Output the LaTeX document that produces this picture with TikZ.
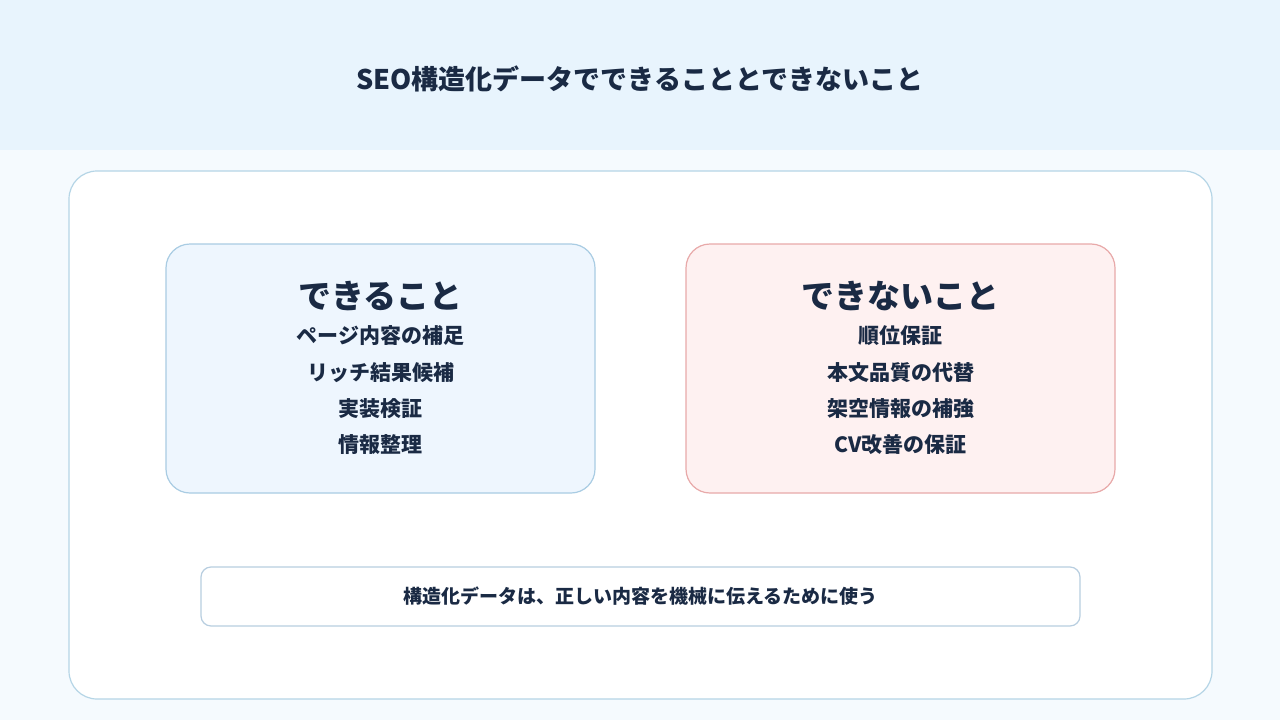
\documentclass[tikz,border=0pt]{standalone}
\usepackage{fontspec}
\setmainfont{Noto Sans CJK JP}
\definecolor{ink}{HTML}{1A2A44}
\definecolor{hdr}{HTML}{E8F4FD}
\definecolor{bg}{HTML}{F5FAFE}
\definecolor{obd}{HTML}{B5D5E6}
\definecolor{lfill}{HTML}{EEF6FE}
\definecolor{lbd}{HTML}{A9CCE3}
\definecolor{rfill}{HTML}{FEF1F1}
\definecolor{rbd}{HTML}{E8A9A9}
\definecolor{bbd}{HTML}{B8CEE0}
\begin{document}
\begin{tikzpicture}[x=1pt,y=-1pt,
  txt/.style={text=ink,font=\bfseries,inner sep=0pt},
  item/.style={txt,font=\bfseries\fontsize{21}{24}\selectfont},
  head/.style={txt,font=\bfseries\fontsize{33}{38}\selectfont}]
\useasboundingbox (0,0) rectangle (1280,720);
\fill[bg] (0,0) rectangle (1280,720);
\fill[hdr] (0,0) rectangle (1280,150);
\node[txt,font=\bfseries\fontsize{27}{32}\selectfont] (title) at (640,79) {SEO構造化データでできることとできないこと};
\draw[obd,fill=white,line width=1.2pt,rounded corners=28pt] (69,171) rectangle (1212,699);
\draw[lbd,fill=lfill,line width=1.2pt,rounded corners=24pt] (166,244) rectangle (595,493);
\draw[rbd,fill=rfill,line width=1.2pt,rounded corners=24pt] (686,244) rectangle (1115,493);
\draw[bbd,fill=white,line width=1.2pt,rounded corners=10pt] (201,567) rectangle (1080,626);
\node[head] (lh) at (380.5,296) {できること};
\node[item] (l1) at (380.5,336) {ページ内容の補足};
\node[item] (l2) at (380.5,373) {リッチ結果候補};
\node[item] (l3) at (380.5,409) {実装検証};
\node[item] (l4) at (380.5,445) {情報整理};
\node[head] (rh) at (900.5,296) {できないこと};
\node[item] (r1) at (900.5,336) {順位保証};
\node[item] (r2) at (900.5,373) {本文品質の代替};
\node[item] (r3) at (900.5,409) {架空情報の補強};
\node[item] (r4) at (900.5,445) {CV改善の保証};
\node[txt,font=\bfseries\fontsize{19}{22}\selectfont] (note) at (640.5,596) {構造化データは、正しい内容を機械に伝えるために使う};
\end{tikzpicture}
\end{document}
